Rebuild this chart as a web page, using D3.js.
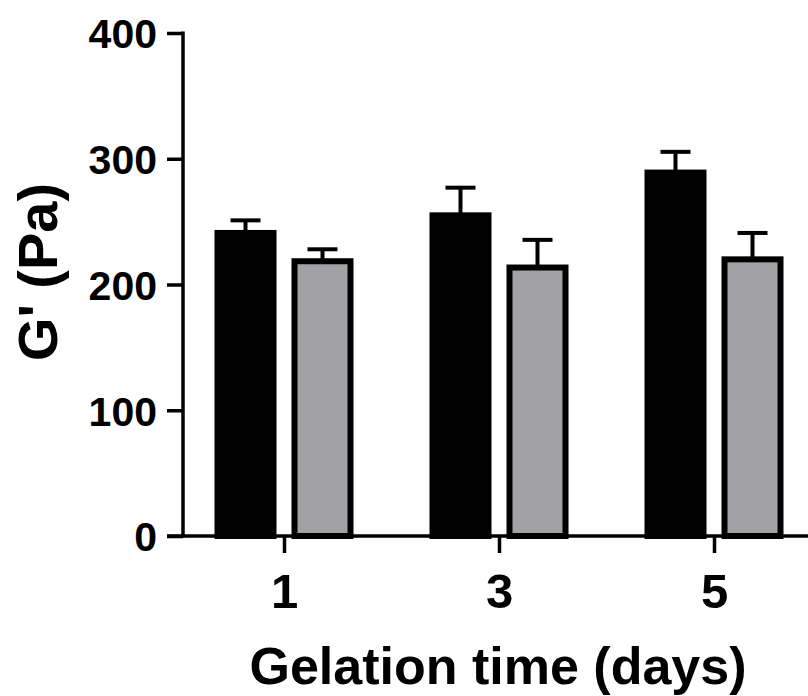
<!DOCTYPE html>
<html>
<head>
<meta charset="utf-8">
<script src="https://cdn.jsdelivr.net/npm/d3@7"></script>
<style>
  html, body { margin: 0; padding: 0; background: #fff; }
  svg { display: block; }
  text { font-family: "Liberation Sans", Arial, Helvetica, sans-serif; font-weight: bold; fill: #000; }
</style>
</head>
<body>
<svg id="chart" width="808" height="696"></svg>
<script>
const categories = ["1", "3", "5"];
const seriesNames = ["Black", "Gray"];
const blackMeans = [241, 255, 289];
const blackErr = [10, 22, 16.5];
const grayMeans = [218.5, 213.5, 220];
const grayErr = [9.5, 22, 21];
const yTicks = [0, 100, 200, 300, 400];
const xTitle = "Gelation time (days)";
const yTitle = "G' (Pa)";

const seriesColors = { Black: "#000000", Gray: "#a2a1a6" };

const svg = d3.select("#chart");

const x = d3.scalePoint().domain(categories).range([284, 714]);
const xs = d3.scalePoint().domain(seriesNames).range([-38.5, 38.5]);
const y = d3.scaleLinear().domain([0, 400]).range([536, 33]);

const barOuter = 62, sw = 6;

const rows = [];
categories.forEach((c, i) => {
  rows.push({ cat: c, s: "Black", v: blackMeans[i], e: blackErr[i] });
  rows.push({ cat: c, s: "Gray", v: grayMeans[i], e: grayErr[i] });
});

// error bars (upper)
const eb = svg.append("g");
rows.forEach(d => {
  const cx = x(d.cat) + xs(d.s);
  eb.append("line")
    .attr("x1", cx).attr("x2", cx)
    .attr("y1", y(d.v)).attr("y2", y(d.v + d.e))
    .attr("stroke", "#000").attr("stroke-width", 4);
  eb.append("line")
    .attr("x1", cx - 15).attr("x2", cx + 15)
    .attr("y1", y(d.v + d.e)).attr("y2", y(d.v + d.e))
    .attr("stroke", "#000").attr("stroke-width", 4);
});

// bars
svg.append("g").selectAll("rect").data(rows).join("rect")
  .attr("x", d => x(d.cat) + xs(d.s) - (barOuter - sw) / 2)
  .attr("width", barOuter - sw)
  .attr("y", d => y(d.v))
  .attr("height", d => y(0) - y(d.v))
  .attr("fill", d => seriesColors[d.s])
  .attr("stroke", "#000")
  .attr("stroke-width", sw);

// y axis
const yAxis = d3.axisLeft(y).tickValues(yTicks).tickSize(16).tickPadding(10).tickFormat(d3.format("d"));
const gy = svg.append("g").attr("transform", "translate(183,0)").call(yAxis);
gy.select(".domain").attr("d", `M0,${y(400) - 1.5}V${y(0) + 1.5}`).attr("stroke", "#000").attr("stroke-width", 3.5);
gy.selectAll(".tick line").attr("stroke", "#000").attr("stroke-width", 3.5);
gy.selectAll(".tick text").style("font-size", "41px").attr("dy", "0.36em").attr("fill", "#000");

// x axis
const xAxis = d3.axisBottom(x).tickSize(17).tickPadding(20);
const gx = svg.append("g").attr("transform", "translate(0,536)").call(xAxis);
gx.select(".domain").attr("d", "M167,0H808").attr("stroke", "#000").attr("stroke-width", 3.5);
gx.selectAll(".tick line").attr("stroke", "#000").attr("stroke-width", 3.5);
gx.selectAll(".tick text").style("font-size", "49px").attr("dy", "0.71em").attr("fill", "#000");

// titles
svg.append("text")
  .attr("x", 498).attr("y", 684)
  .attr("text-anchor", "middle")
  .style("font-size", "52px")
  .text(xTitle);

svg.append("text")
  .attr("transform", "translate(57,272) rotate(-90)")
  .attr("text-anchor", "middle")
  .style("font-size", "56px")
  .text(yTitle);
</script>
</body>
</html>
